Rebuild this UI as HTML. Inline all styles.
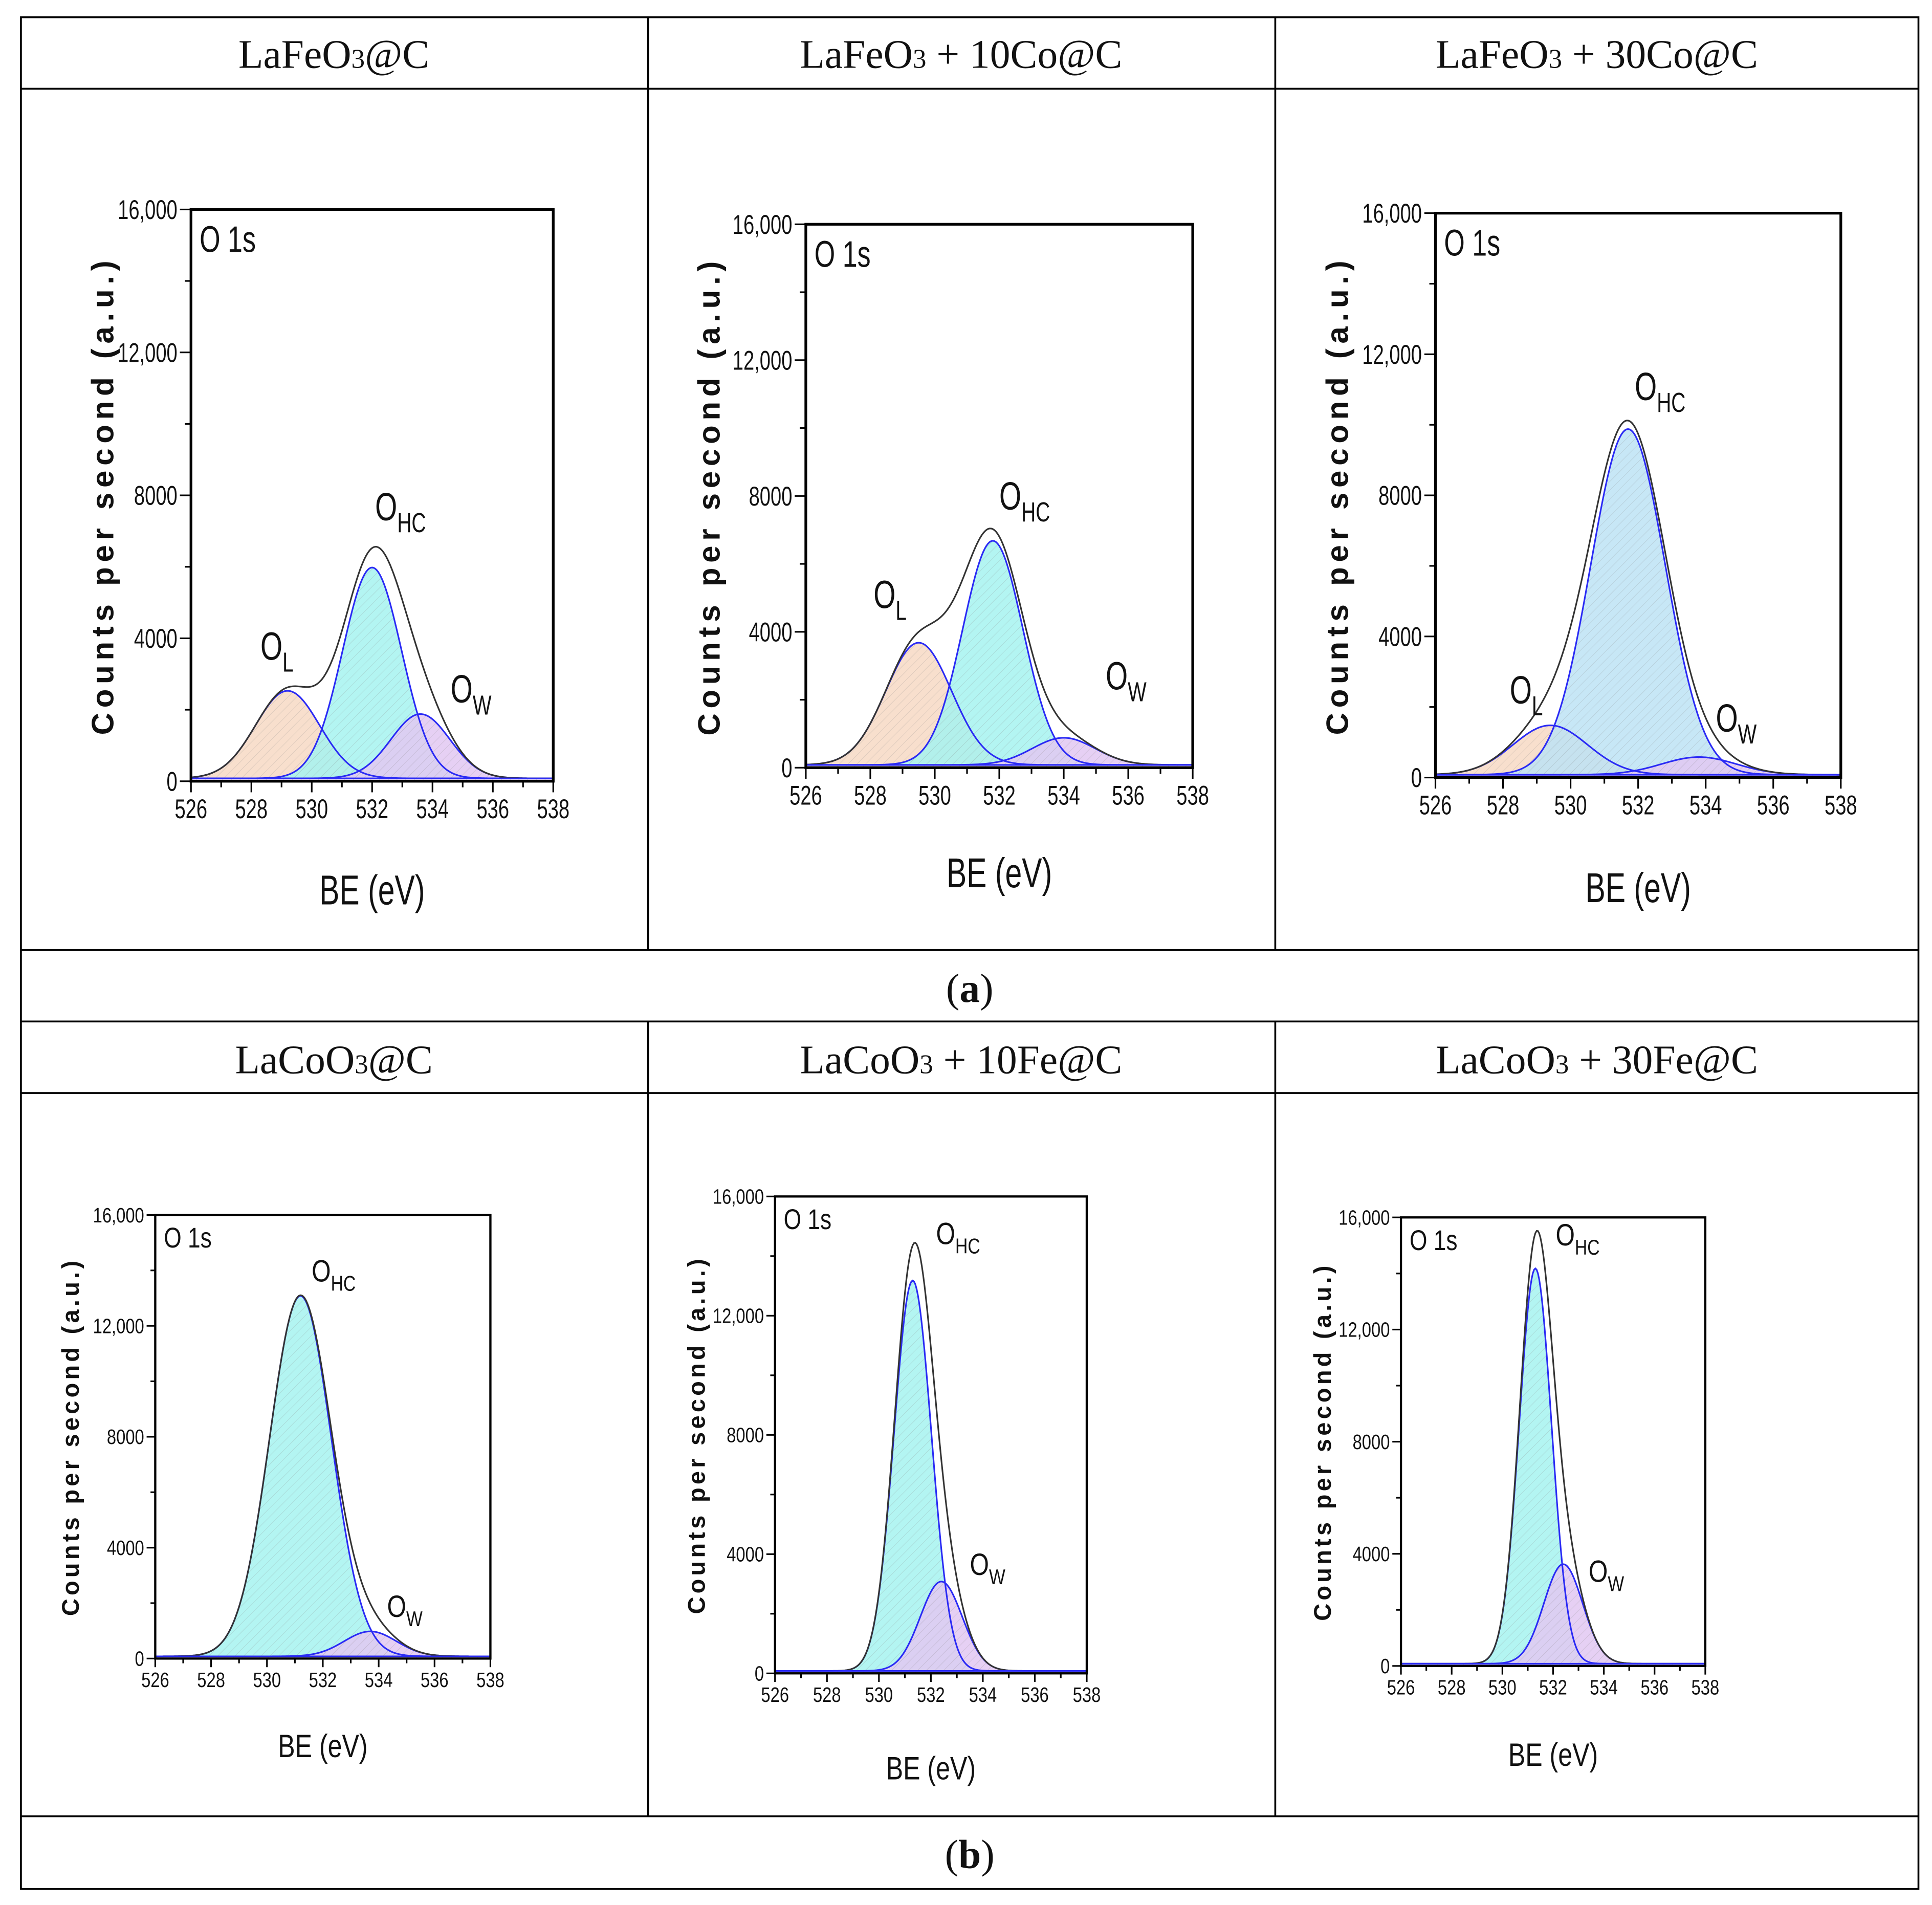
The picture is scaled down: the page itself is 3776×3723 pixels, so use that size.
<!DOCTYPE html>
<html><head><meta charset="utf-8">
<style>
html,body{margin:0;padding:0;background:#fff;}
svg{display:block;}
.hdr{font-family:"Liberation Serif",serif;font-size:33px;fill:#111;}
.tk{font-family:"Liberation Sans",sans-serif;fill:#111;}
</style></head>
<body>
<svg id="fig" xmlns="http://www.w3.org/2000/svg" width="3776" height="3723" viewBox="0 0 1568 1546" preserveAspectRatio="none">
<defs>
<pattern id="hatch" width="5" height="5" patternUnits="userSpaceOnUse" patternTransform="rotate(45)">
<line x1="0" y1="0" x2="0" y2="5" stroke="#888" stroke-width="0.6" stroke-opacity="0.35"/>
</pattern>
</defs>
<g fill="none" stroke="#000" stroke-width="1.5">
<rect x="17" y="14" width="1540" height="1519"/>
<line x1="17" y1="72" x2="1557" y2="72"/>
<line x1="17" y1="771" x2="1557" y2="771"/>
<line x1="17" y1="829" x2="1557" y2="829"/>
<line x1="17" y1="887" x2="1557" y2="887"/>
<line x1="17" y1="1474" x2="1557" y2="1474"/>
<line x1="526" y1="14" x2="526" y2="771"/>
<line x1="1035" y1="14" x2="1035" y2="771"/>
<line x1="526" y1="829" x2="526" y2="1474"/>
<line x1="1035" y1="829" x2="1035" y2="1474"/>
</g>
<text class="hdr" x="271" y="55" text-anchor="middle">LaFeO<tspan font-size="22">3</tspan>@C</text>
<text class="hdr" x="780" y="55" text-anchor="middle">LaFeO<tspan font-size="22">3</tspan> + 10Co@C</text>
<text class="hdr" x="1296" y="55" text-anchor="middle">LaFeO<tspan font-size="22">3</tspan> + 30Co@C</text>
<text class="hdr" x="787" y="813" text-anchor="middle">(<tspan font-weight="bold">a</tspan>)</text>
<text class="hdr" x="271" y="871" text-anchor="middle">LaCoO<tspan font-size="22">3</tspan>@C</text>
<text class="hdr" x="780" y="871" text-anchor="middle">LaCoO<tspan font-size="22">3</tspan> + 10Fe@C</text>
<text class="hdr" x="1296" y="871" text-anchor="middle">LaCoO<tspan font-size="22">3</tspan> + 30Fe@C</text>
<text class="hdr" x="787" y="1516" text-anchor="middle">(<tspan font-weight="bold">b</tspan>)</text>
</svg>
<script>
const xTicks = [526,528,530,532,534,536,538];
const yTicks = [0,4000,8000,12000,16000];
const yTickLabels = ["0","4000","8000","12,000","16,000"];
const c1Names=["OL","OHC","OW"], c1Centers=[529.2,532.0,533.6], c1Heights=[2450,5900,1800], c1Widths=[2.5,2.3,2.3];
const c2Names=["OL","OHC","OW"], c2Centers=[529.5,531.8,534.0], c2Heights=[3600,6600,800], c2Widths=[2.4,2.2,2.3];
const c3Names=["OL","OHC","OW"], c3Centers=[529.4,531.7,533.8], c3Heights=[1400,9800,500], c3Widths=[2.6,2.6,2.6];
const c4Names=["OHC","OW"], c4Centers=[531.2,533.7], c4Heights=[13000,900], c4Widths=[2.6,2.2];
const c5Names=["OHC","OW"], c5Centers=[531.3,532.4], c5Heights=[13100,3000], c5Widths=[1.7,1.9];
const c6Names=["OHC","OW"], c6Centers=[531.3,532.4], c6Heights=[14100,3550], c6Widths=[1.5,1.8];
const baseline = 80;

const NS="http://www.w3.org/2000/svg";
const svgEl=document.getElementById('fig');
function mk(tag,attrs,parent){const e=document.createElementNS(NS,tag);for(const k in attrs)e.setAttribute(k,attrs[k]);(parent||svgEl).appendChild(e);return e;}
const fills={OL:"#f7d9c4",OHC:"#a6f3f0",OW:"#e2c8f2"};

function chart(id,box,names,centers,heights,widths,opt){
  const x0=box[0],y0=box[1],x1=box[2],y1=box[3];
  const g=mk('g',{});
  
  
  const X=v=>x0+(v-526)/(538-526)*(x1-x0);
  const Y=v=>y1-v/16000*(y1-y0);
  const gauss=(i,x)=>heights[i]*Math.exp(-4*Math.LN2*Math.pow((x-centers[i])/widths[i],2));
  const xs=[];for(let v=526;v<=538.0001;v+=0.05)xs.push(v);
  for(let i=0;i<names.length;i++){
    let d='M'+X(526)+','+Y(baseline);
    xs.forEach(v=>{d+=' L'+X(v).toFixed(2)+','+Y(baseline+gauss(i,v)).toFixed(2);});
    d+=' L'+X(538)+','+Y(0)+' L'+X(526)+','+Y(0)+'Z';
    let col=fills[names[i]]; if(opt.ohcBlue&&names[i]=="OHC")col="#bde3f5";
    const f=mk('path',{d:d,fill:col,'fill-opacity':0.85},g);
    
    
    mk('path',{d:d,fill:'url(#hatch)'},g);
  }
  for(let i=0;i<names.length;i++){
    let d='';
    xs.forEach((v,k)=>{d+=(k?' L':'M')+X(v).toFixed(2)+','+Y(baseline+gauss(i,v)).toFixed(2);});
    const l=mk('path',{d:d,fill:'none',stroke:'#2a2af5','stroke-width':1.3},g);
    
    
  }
  let d='';
  xs.forEach((v,k)=>{let s=baseline;for(let i=0;i<names.length;i++)s+=gauss(i,v);d+=(k?' L':'M')+X(v).toFixed(2)+','+Y(s).toFixed(2);});
  const env=mk('path',{d:d,fill:'none',stroke:'#333','stroke-width':1.3},g);
  
  
  mk('line',{x1:x0,y1:Y(baseline),x2:x1,y2:Y(baseline),stroke:'#2a2af5','stroke-width':1.3},g);
  const fr=mk('rect',{x:x0,y:y0,width:x1-x0,height:y1-y0,fill:'none',stroke:'#000','stroke-width':opt.frameW},g);
  
  
  const fs=opt.fs, sx=opt.sx;
  for(let v=526;v<=538;v++){
    const maj=(v%2==0);
    mk('line',{x1:X(v),y1:y1,x2:X(v),y2:y1+(maj?opt.tl:opt.tl*0.55),stroke:'#000','stroke-width':1.3},g);
  }
  xTicks.forEach(v=>{
    const t=mk('text',{class:'tk',x:0,y:0,'text-anchor':'middle','font-size':fs,transform:'translate('+X(v)+','+(y1+opt.tl+fs*0.95)+') scale('+sx+',1)'},g);
    t.textContent=v;
    
    
  });
  for(let v=0;v<=16000;v+=2000){
    const maj=(v%4000==0);
    mk('line',{x1:x0,y1:Y(v),x2:x0-(maj?opt.tl:opt.tl*0.55),y2:Y(v),stroke:'#000','stroke-width':1.3},g);
  }
  yTicks.forEach((v,k)=>{
    const t=mk('text',{class:'tk',x:0,y:0,'text-anchor':'end','font-size':fs,transform:'translate('+(x0-opt.tl-2)+','+(Y(v)+fs*0.35)+') scale('+sx+',1)'},g);
    t.textContent=yTickLabels[k];
    
    
  });
  const xt=mk('text',{class:'tk',x:0,y:0,'text-anchor':'middle','font-size':opt.xtfs,transform:'translate('+((x0+x1)/2)+','+opt.xtY+') scale('+sx+',1)'},g);
  xt.textContent='BE (eV)';
  
  
  const yt=mk('text',{class:'tk',x:0,y:0,'text-anchor':'middle','font-size':opt.ytfs,'font-weight':'bold','letter-spacing':opt.ytls,transform:'translate('+opt.ytX+','+((y0+y1)/2)+') rotate(-90)'},g);
  yt.textContent='Counts per second (a.u.)';
  
  
  const o=mk('text',{class:'tk',x:0,y:0,'font-size':opt.o1fs,transform:'translate('+(x0+7)+','+(y0+opt.o1fs*1.15)+') scale('+sx+',1)'},g);
  o.textContent='O 1s';
  
  
  opt.labels.forEach(L=>{
    const t=mk('text',{class:'tk',x:0,y:0,'font-size':opt.lfs,transform:'translate('+X(L[1])+','+Y(L[2])+') scale('+sx+',1)'},g);
    t.textContent='O';
    const s=mk('tspan',{'font-size':opt.lfs*0.7,dy:opt.lfs*0.3},t); s.textContent=L[0];
    
    
  });
}
const topOpt={fs:22,sx:0.72,tl:9,frameW:2.2,ytfs:25,ytls:4,xtfs:34,o1fs:30,lfs:32};
chart('chart-lafeo3-c',[155,170,449,634],c1Names,c1Centers,c1Heights,c1Widths,Object.assign({},topOpt,{xtY:734,ytX:92,labels:[['L',528.3,3400],['HC',532.1,7300],['W',534.6,2200]]}));
chart('chart-lafeo3-10co-c',[654,182,968,623],c2Names,c2Centers,c2Heights,c2Widths,Object.assign({},topOpt,{xtY:720,ytX:584,labels:[['L',528.1,4700],['HC',532.0,7600],['W',535.3,2300]]}));
chart('chart-lafeo3-30co-c',[1165,173,1494,631],c3Names,c3Centers,c3Heights,c3Widths,Object.assign({},topOpt,{ohcBlue:true,xtY:732,ytX:1094,labels:[['L',528.2,2100],['HC',531.9,10700],['W',534.3,1300]]}));
const botOpt={fs:17,sx:0.8,tl:7,frameW:1.8,ytfs:19.5,ytls:2.6,xtfs:26,o1fs:23,lfs:25};
chart('chart-lacoo3-c',[126,986,398,1346],c4Names,c4Centers,c4Heights,c4Widths,Object.assign({},botOpt,{xtY:1426,ytX:64,labels:[['HC',531.6,13600],['W',534.3,1500]]}));
chart('chart-lacoo3-10fe-c',[629,971,882,1358],c5Names,c5Centers,c5Heights,c5Widths,Object.assign({},botOpt,{xtY:1444,ytX:572,labels:[['HC',532.2,14400],['W',533.5,3300]]}));
chart('chart-lacoo3-30fe-c',[1137,988,1384,1352],c6Names,c6Centers,c6Heights,c6Widths,Object.assign({},botOpt,{xtY:1433,ytX:1080,labels:[['HC',532.1,15000],['W',533.4,3000]]}));
</script>
</body></html>
